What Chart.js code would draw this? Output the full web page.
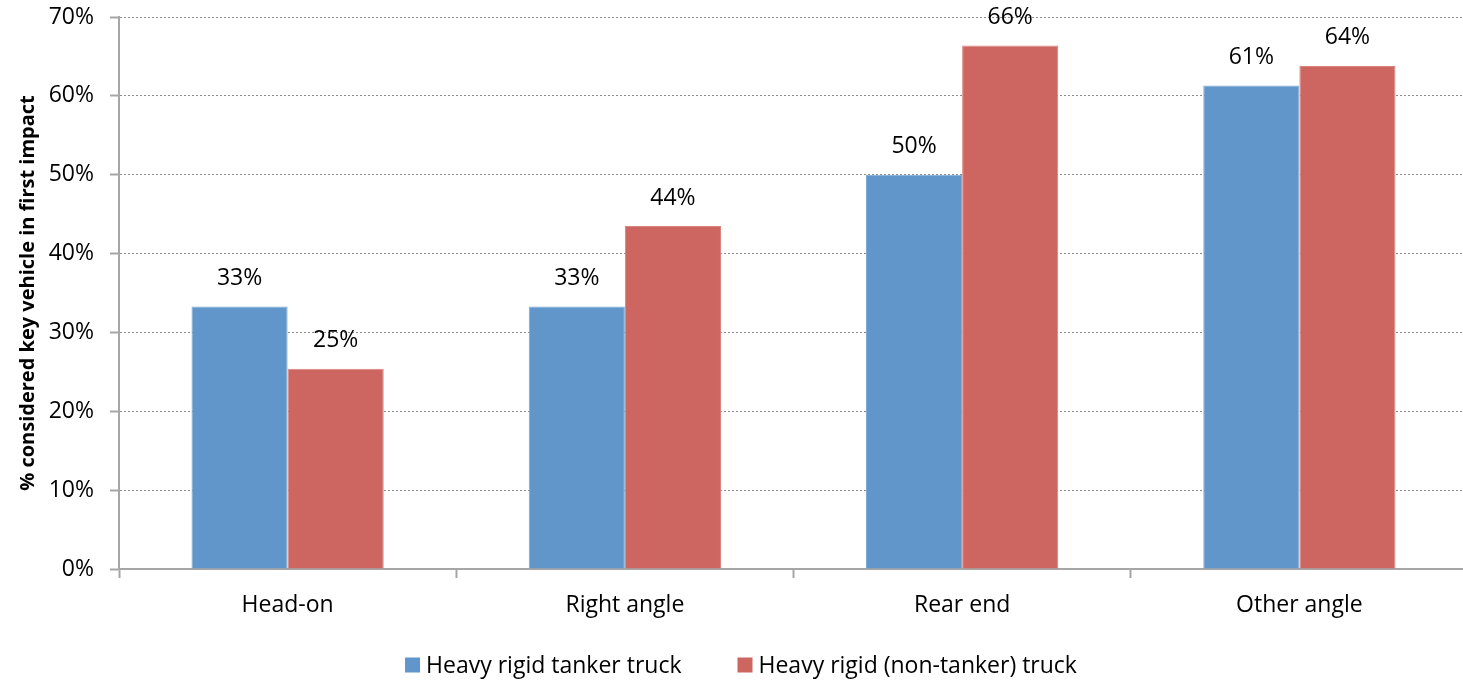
<!DOCTYPE html>
<html>
<head>
<meta charset="utf-8">
<script src="https://cdn.jsdelivr.net/npm/chart.js@4/dist/chart.umd.min.js"></script>
<style>
  html, body { margin: 0; padding: 0; background: #fff; overflow: hidden; }
  #wrap { width: 1468px; height: 680px; position: relative; }
</style>
</head>
<body>
<div id="wrap"><canvas id="chart"></canvas></div>
<script>
// ================= DATA =================
const categories = ["Head-on", "Right angle", "Rear end", "Other angle"];
const tankerValues = [33.3, 33.3, 50.0, 61.3];
const nonTankerValues = [25.4, 43.5, 66.4, 63.8];
const seriesNames = ["Heavy rigid tanker truck", "Heavy rigid (non-tanker) truck"];
const yTicks = [0, 10, 20, 30, 40, 50, 60, 70];

const FONT = "'Open Sans', 'Noto Sans', sans-serif";
const AXIS_GREY = "#a6a6a6";

// value labels above each bar
const barLabels = {
  id: "barLabels",
  afterDatasetsDraw(chart) {
    const ctx = chart.ctx;
    ctx.save();
    ctx.font = `23px ${FONT}`;
    ctx.fillStyle = "#000";
    ctx.textAlign = "center";
    ctx.textBaseline = "middle";
    chart.data.datasets.forEach((ds, i) => {
      chart.getDatasetMeta(i).data.forEach((bar, j) => {
        ctx.fillText(Math.round(ds.data[j]) + "%", bar.x, bar.y - 28);
      });
    });
    ctx.restore();
  },
};

// bottom legend with tight box/text spacing and a wide gap between items
const bottomLegend = {
  id: "bottomLegend",
  afterDraw(chart) {
    const ctx = chart.ctx;
    const box = 15, boxGap = 6, itemGap = 56, y = 665;
    ctx.save();
    ctx.font = `23px ${FONT}`;
    ctx.textBaseline = "middle";
    ctx.textAlign = "left";
    const items = chart.data.datasets.map((ds) => ({
      text: ds.label,
      color: ds.backgroundColor,
      w: box + boxGap + ctx.measureText(ds.label).width,
    }));
    const total = items.reduce((s, it) => s + it.w, 0) + itemGap * (items.length - 1);
    let x = chart.width / 2 + 7 - total / 2;
    items.forEach((it) => {
      ctx.fillStyle = it.color;
      ctx.fillRect(x, y - box / 2, box, box);
      ctx.fillStyle = "#000";
      ctx.fillText(it.text, x + box + boxGap, y + 1);
      x += it.w + itemGap;
    });
    ctx.restore();
  },
};

new Chart(document.getElementById("chart"), {
  type: "bar",
  data: {
    labels: categories,
    datasets: [
      {
        label: seriesNames[0],
        data: tankerValues,
        backgroundColor: "#6096c9",
        borderColor: "#7ba9d6",
        borderWidth: 1,
      },
      {
        label: seriesNames[1],
        data: nonTankerValues,
        backgroundColor: "#cd6660",
        borderColor: "#d9837e",
        borderWidth: 1,
      },
    ],
  },
  options: {
    responsive: true,
    maintainAspectRatio: false,
    animation: false,
    datasets: {
      bar: { categoryPercentage: 0.57, barPercentage: 1.0 },
    },
    layout: { padding: { top: 17, right: 0, left: 0, bottom: 0 } },
    plugins: {
      tooltip: { enabled: false },
      legend: { display: false },
    },
    scales: {
      x: {
        afterFit: (scale) => { scale.height = 111; },
        grid: {
          offset: true,
          drawOnChartArea: false,
          tickLength: 9,
          tickColor: AXIS_GREY,
          tickWidth: 2,
        },
        border: { color: AXIS_GREY, width: 2 },
        ticks: {
          color: "#000",
          font: { family: FONT, size: 23 },
          padding: 14,
        },
      },
      y: {
        min: 0,
        max: 70,
        afterFit: (scale) => {
          scale.width = 119;
          scale.paddingTop = 0;
          scale.paddingBottom = 0;
        },
        afterBuildTicks: (scale) => {
          scale.ticks = yTicks.map((v) => ({ value: v }));
        },
        grid: {
          color: "#8c8c8c",
          lineWidth: 1,
          tickBorderDash: [],
          tickColor: AXIS_GREY,
          tickWidth: 2,
          tickLength: 9,
        },
        border: { color: AXIS_GREY, width: 2, dash: [2, 2] },
        ticks: {
          color: "#000",
          font: { family: FONT, size: 23 },
          padding: 16,
          callback: (v) => v + "%",
        },
        title: {
          display: true,
          text: "% considered key vehicle in first impact",
          color: "#000",
          font: { family: FONT, size: 20, weight: "bold" },
          padding: { top: 16, bottom: 0 },
        },
      },
    },
  },
  plugins: [barLabels, bottomLegend],
});
</script>
</body>
</html>
